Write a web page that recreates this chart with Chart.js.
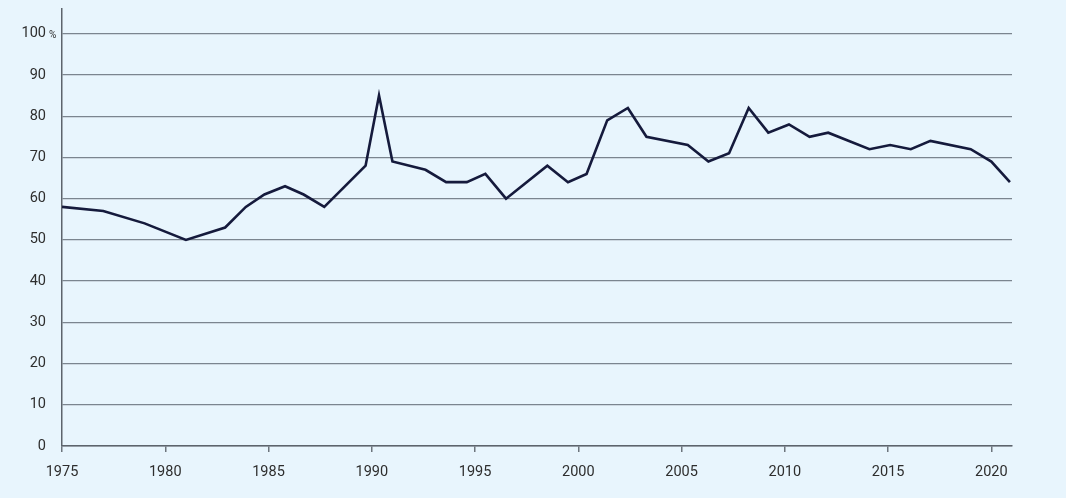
<!DOCTYPE html>
<html>
<head>
<meta charset="utf-8">
<script src="https://cdn.jsdelivr.net/npm/chart.js@4/dist/chart.umd.min.js"></script>
<style>
  html, body { margin: 0; padding: 0; background: #e8f5fd; }
  #wrap { width: 1066px; height: 498px; position: relative; }
</style>
</head>
<body>
<div id="wrap"><canvas id="myChart" width="1066" height="498"></canvas></div>
<script>
// values (years are fractional where the points sit between ticks)
var years = [1975, 1977, 1979, 1981, 1982.9, 1983.9, 1984.8, 1985.8, 1986.7, 1987.7,
             1989.7, 1990.35, 1991, 1992.6, 1993.6, 1994.6, 1995.5, 1996.5, 1998.5, 1999.5,
             2000.4, 2001.4, 2002.4, 2003.3, 2005.3, 2006.3, 2007.3, 2008.25, 2009.2, 2010.2,
             2011.2, 2012.1, 2014.1, 2015.1, 2016.1, 2017.05, 2019, 2020, 2020.9];
var share = [58, 57, 54, 50, 53, 58, 61, 63, 61, 58,
             68, 85, 69, 67, 64, 64, 66, 60, 68, 64,
             66, 79, 82, 75, 73, 69, 71, 82, 76, 78,
             75, 76, 72, 73, 72, 74, 72, 69, 64];
var xTicks = [1975, 1980, 1985, 1990, 1995, 2000, 2005, 2010, 2015, 2020];
var yTicks = [0, 10, 20, 30, 40, 50, 60, 70, 80, 90, 100];

var pts = [];
for (var i = 0; i < years.length; i++) {
    pts.push({x: years[i], y: share[i]});
}

var txt = "#2e2e2e";
var fnt = {family: "Roboto, 'Liberation Sans', Arial, sans-serif", size: 14.5};

// small percent sign after the "100" label
var pctPlugin = {
    id: "pct",
    afterDraw: function(chart) {
        var ys = chart.scales.y;
        var ctx = chart.ctx;
        var py = ys.getPixelForValue(100);
        ctx.save();
        ctx.fillStyle = txt;
        ctx.font = "10px Roboto, 'Liberation Sans', Arial, sans-serif";
        ctx.textBaseline = "middle";
        ctx.textAlign = "left";
        ctx.fillText("%", 49, py + 2);
        ctx.restore();
    }
};

const ctx = document.getElementById('myChart').getContext('2d');
var myChart = new Chart(ctx, {
    type: 'line',
    data: {
        datasets: [{
            data: pts,
            borderColor: "#151a3c",
            borderWidth: 2.6,
            pointRadius: 0,
            tension: 0,
            fill: false
        }]
    },
    options: {
        responsive: false,
        animation: false,
        layout: {padding: {top: 9, right: 54, left: 0, bottom: 0}},
        plugins: {legend: {display: false}, tooltip: {enabled: false}},
        scales: {
            x: {
                type: 'linear',
                min: 1975,
                max: 2021,
                afterBuildTicks: function(axis) {
                    axis.ticks = xTicks.map(function(v) { return {value: v}; });
                },
                afterFit: function(scale) {
                    scale.height = 52;
                    scale.paddingLeft = 0;
                    scale.paddingRight = 0;
                },
                border: {color: "#5d646c", width: 1.5},
                grid: {drawOnChartArea: false, tickLength: 6, color: "#6d757d", lineWidth: 1.5},
                ticks: {
                    color: txt, font: fnt, padding: 12, maxRotation: 0,
                    callback: function(v) { return String(v); }
                }
            },
            y: {
                min: 0,
                max: 106,
                afterBuildTicks: function(axis) {
                    axis.ticks = yTicks.map(function(v) { return {value: v}; });
                },
                afterFit: function(scale) {
                    scale.width = 62;
                    scale.paddingTop = 0;
                    scale.paddingBottom = 0;
                },
                border: {color: "#5d646c", width: 1.5},
                grid: {drawTicks: false, color: "#7b858f", lineWidth: 1.2},
                ticks: {color: txt, font: fnt, padding: 16}
            }
        }
    },
    plugins: [pctPlugin]
});
</script>
</body>
</html>
